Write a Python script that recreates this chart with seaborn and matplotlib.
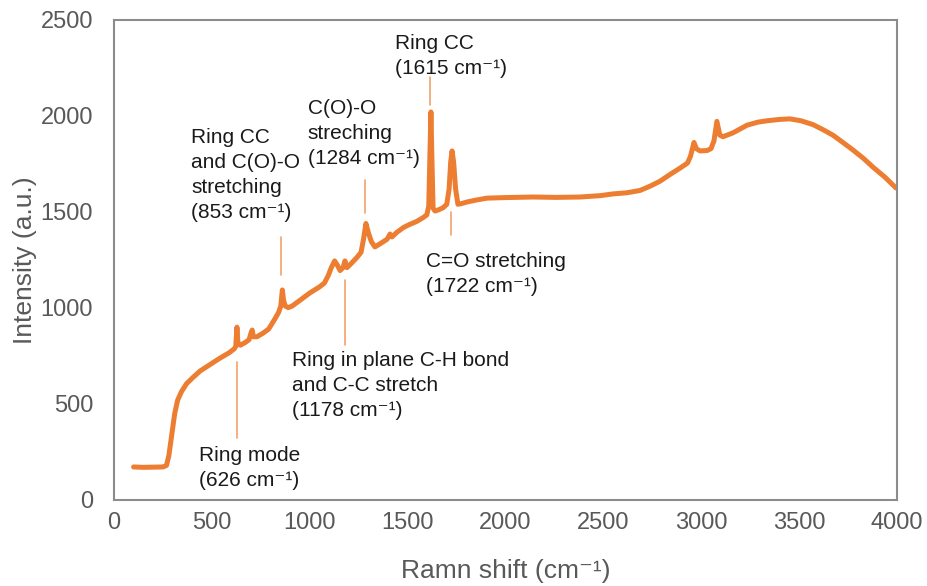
import matplotlib
matplotlib.use("Agg")
import matplotlib.pyplot as plt
import seaborn as sns
import pandas as pd

# Raman spectrum (wavenumber in cm-1, intensity in a.u.)
shift = [100, 150, 200, 250, 268, 280, 295, 310, 325, 345, 370, 400, 440, 490,
         540, 590, 615, 622, 628, 633, 645, 670, 690, 700, 706, 712, 730, 760,
         790, 820, 840, 852, 860, 866, 875, 890, 910, 950, 1000, 1050, 1075,
         1095, 1110, 1127, 1140, 1155, 1170, 1180, 1190, 1210, 1240, 1262, 1275,
         1287, 1300, 1315, 1333, 1360, 1395, 1410, 1420, 1446, 1480, 1510, 1545,
         1578, 1598, 1608, 1614, 1619, 1624, 1630, 1640, 1660, 1681, 1700, 1712,
         1720, 1727, 1735, 1745, 1757, 1780, 1803, 1850, 1905, 2000, 2141, 2260,
         2381, 2483, 2549, 2620, 2687, 2740, 2789, 2840, 2891, 2930, 2945, 2963,
         2975, 2994, 3030, 3050, 3065, 3080, 3095, 3111, 3162, 3234, 3290, 3336,
         3400, 3453, 3510, 3571, 3620, 3673, 3720, 3775, 3830, 3877, 3940, 3995]
intensity = [172, 170, 171, 172, 180, 230, 340, 450, 520, 565, 605, 635, 672, 705,
             738, 768, 788, 800, 900, 820, 806, 820, 835, 870, 885, 850, 850, 868,
             890, 940, 975, 1010, 1094, 1040, 1010, 1002, 1010, 1040, 1078, 1110, 1130,
             1170, 1210, 1245, 1225, 1195, 1210, 1245, 1210, 1230, 1262, 1290, 1360,
             1440, 1390, 1345, 1318, 1335, 1358, 1385, 1370, 1395, 1420, 1435, 1450,
             1470, 1485, 1530, 1800, 2021, 1780, 1520, 1505, 1512, 1522, 1540, 1620,
             1760, 1818, 1760, 1620, 1540, 1545, 1552, 1562, 1572, 1575, 1578, 1576,
             1578, 1585, 1594, 1600, 1612, 1635, 1660, 1695, 1728, 1755, 1790, 1862,
             1830, 1818, 1820, 1830, 1870, 1972, 1900, 1892, 1912, 1952, 1968, 1975,
             1982, 1985, 1975, 1955, 1930, 1900, 1865, 1823, 1778, 1734, 1680, 1625]

# Band assignments: position, marker segment (y0, y1), label text and its anchor
band_pos = [626, 853, 1178, 1284, 1615, 1722]
band_y0 = [323, 1172, 807, 1495, 2057, 1380]
band_y1 = [719, 1370, 1146, 1667, 2203, 1500]
CM = "cm\u207b\u00b9"
band_text = [
    "Ring mode\n(626 " + CM + ")",
    "Ring CC\nand C(O)-O\nstretching\n(853 " + CM + ")",
    "Ring in plane C-H bond\nand C-C stretch\n(1178 " + CM + ")",
    "C(O)-O\nstreching\n(1284 " + CM + ")",
    "Ring CC\n(1615 " + CM + ")",
    "C=O stretching\n(1722 " + CM + ")",
]
label_x = [434, 393, 910, 990, 1435, 1594]
label_y = [282, 1935, 775, 2090, 2425, 1290]

x_ticks = [0, 500, 1000, 1500, 2000, 2500, 3000, 3500, 4000]
y_ticks = [0, 500, 1000, 1500, 2000, 2500]

sns.set_theme(style="white")
FAMILY = ["Liberation Sans", "DejaVu Sans"]
plt.rcParams["font.family"] = FAMILY

fig = plt.figure(figsize=(9.27, 5.86), dpi=100)
ax = fig.add_axes([0.123, 0.1468, 0.8446, 0.8191])

df = pd.DataFrame({"shift": shift, "intensity": intensity})
sns.lineplot(data=df, x="shift", y="intensity", ax=ax, color="#ED7D31",
             linewidth=3.6, sort=False)

for xp, y0, y1, txt, tx, ty in zip(band_pos, band_y0, band_y1, band_text,
                                   label_x, label_y):
    ax.plot([xp, xp], [y0, y1], color="#F4A26B", linewidth=1.2)
    ax.text(tx, ty, txt, ha="left", va="top", fontsize=15, color="#1a1a1a",
            linespacing=1.4, family=FAMILY)

ax.set_xlim(0, 4000)
ax.set_ylim(0, 2500)
ax.set_xticks(x_ticks)
ax.set_yticks(y_ticks)
ax.tick_params(axis="both", length=0, labelsize=17, labelcolor="#595959")
ax.tick_params(axis="x", pad=9)
ax.tick_params(axis="y", pad=15)
ax.set_xlabel("Ramn shift (" + CM + ")", fontsize=19, color="#595959", labelpad=18)
ax.set_ylabel("Intensity (a.u.)", fontsize=19, color="#595959", labelpad=3)
for s in ax.spines.values():
    s.set_color("#8c8c8c")
    s.set_linewidth(1.5)

fig.savefig("out.png", dpi=100)
